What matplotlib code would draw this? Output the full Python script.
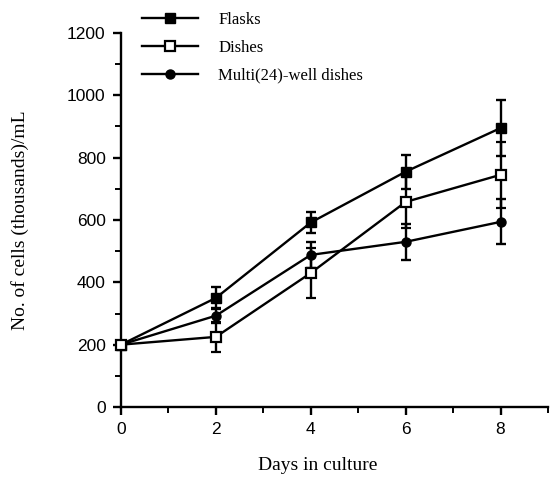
import matplotlib
matplotlib.use("Agg")
import matplotlib.pyplot as plt
from matplotlib.ticker import MultipleLocator
from matplotlib.lines import Line2D

days = [0, 2, 4, 6, 8]
flasks = [200, 350, 592, 755, 895]
flasks_err = [0, 35, 35, 55, 90]
dishes = [200, 225, 430, 658, 745]
dishes_err = [0, 48, 80, 85, 105]
multi = [200, 293, 488, 530, 594]
multi_err = [0, 25, 42, 57, 72]
labels = ["Flasks", "Dishes", "Multi(24)-well dishes"]

fig = plt.figure(figsize=(5.51, 4.84), dpi=100)
ax = fig.add_axes([121/551, 1-407/484, 427/551, 374/484])

serif = "Liberation Serif"
sans = "Liberation Sans"

lw = 1.7
common = dict(color="black", lw=lw, elinewidth=lw, capsize=3.5, capthick=lw,
              markersize=6.5, clip_on=False)
ax.errorbar(days, flasks, yerr=flasks_err, marker="s", mfc="black", mec="black",
            zorder=3, **common)
ax.errorbar(days, dishes, yerr=dishes_err, marker="s", mfc="white", mec="black",
            mew=1.6, zorder=4, **common)
ax.errorbar(days, multi, yerr=multi_err, marker="o", mfc="black", mec="black",
            zorder=3, **common)

handles = [
    Line2D([], [], color="black", lw=lw, marker="s", mfc="black", mec="black", markersize=6.5),
    Line2D([], [], color="black", lw=lw, marker="s", mfc="white", mec="black", mew=1.6, markersize=6.5),
    Line2D([], [], color="black", lw=lw, marker="o", mfc="black", mec="black", markersize=6.5),
]

ax.set_xlim(0, 9)
ax.set_ylim(0, 1200)
ax.spines["top"].set_visible(False)
ax.spines["right"].set_visible(False)
for s in ("left", "bottom"):
    ax.spines[s].set_linewidth(1.7)

ax.set_xticks([0, 2, 4, 6, 8])
ax.xaxis.set_minor_locator(MultipleLocator(1))
ax.yaxis.set_major_locator(MultipleLocator(200))
ax.yaxis.set_minor_locator(MultipleLocator(100))
ax.tick_params(axis="both", which="major", direction="out", length=6, width=1.7,
               labelsize=12.5, pad=5)
ax.tick_params(axis="both", which="minor", direction="out", length=4, width=1.4)
for lab in ax.get_xticklabels() + ax.get_yticklabels():
    lab.set_fontfamily(sans)

ax.set_ylabel("No. of cells (thousands)/mL", fontfamily=serif, fontsize=14)
ax.yaxis.set_label_coords(-0.215, 0.5)
fig.text(318/551, 1-466/484, "Days in culture", fontfamily=serif, fontsize=14,
         ha="center", va="center")

fig.legend(handles, labels, loc="upper left",
           bbox_to_anchor=(135/551, 1-5/484), frameon=False,
           prop={"family": serif, "size": 12}, handlelength=3.4,
           labelspacing=0.72, handletextpad=1.2, borderaxespad=0)

fig.savefig("out.png", dpi=100)
